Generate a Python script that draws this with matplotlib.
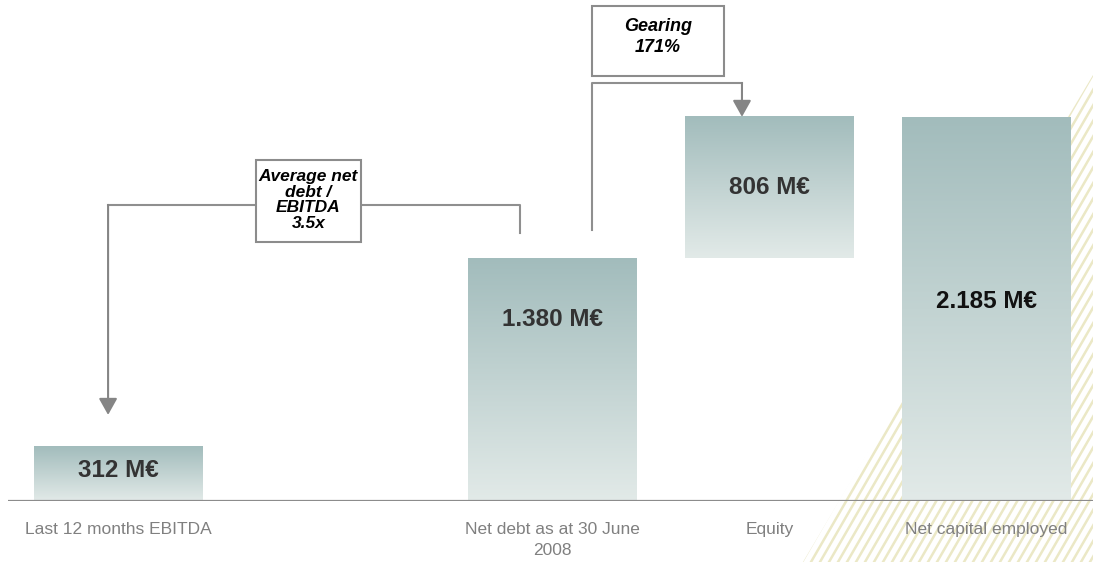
import numpy as np
import matplotlib
matplotlib.use("Agg")
import matplotlib.pyplot as plt
from matplotlib.patches import Rectangle, Polygon
from matplotlib.colors import LinearSegmentedColormap

plt.rcParams['font.family'] = ['Liberation Sans', 'DejaVu Sans']

# data
categories = ["Last 12 months EBITDA", "Net debt as at 30 June\n2008", "Equity", "Net capital employed"]
x_pos = [0, 2, 3, 4]
values = [312, 1380, 806, 2185]
bottoms = [0, 0, values[1], 0]          # equity sits on top of net debt
value_labels = ["312 M€", "1.380 M€", "806 M€", "2.185 M€"]
label_colors = ["#333333", "#333333", "#333333", "#111111"]
label_frac = [0.55, 0.75, 0.5, 0.52]   # where the value text sits inside each bar
ratio_text = "Average net\ndebt /\nEBITDA\n3.5x"
gearing_text = "Gearing\n171%"

W, H = 1093, 562
fig = plt.figure(figsize=(W / 100, H / 100), dpi=100)

# pale diagonal stripes in the lower right corner (slide background)
bg = fig.add_axes([0, 0, 1, 1])
bg.set_xlim(0, W)
bg.set_ylim(H, 0)
bg.axis('off')
clip = Polygon([(800, H + 5), (W, 75), (W, H + 5)], closed=True,
               transform=bg.transData, facecolor='none', edgecolor='none')
bg.add_patch(clip)
for c in np.arange(460, W + 20, 9):
    ln, = bg.plot([c, c + 325], [H, 0], color='#ebe8c6', lw=1.8)
    ln.set_clip_path(clip)

ax = fig.add_axes([8 / W, 61 / H, (W - 8) / W, 501 / H])
ax.set_facecolor('none')
bar_w = 0.774

# bars with a vertical gradient, dark at the top
cmap = LinearSegmentedColormap.from_list('bar', ['#e2eae8', '#a2bcbc'])
grad = np.linspace(0, 1, 256).reshape(-1, 1)
for x, b, v in zip(x_pos, bottoms, values):
    ax.imshow(grad, extent=[x - bar_w / 2, x + bar_w / 2, b, b + v], origin='lower',
              cmap=cmap, aspect='auto', zorder=2, interpolation='bilinear')

for x, b, v, t, col, f in zip(x_pos, bottoms, values, value_labels, label_colors, label_frac):
    ax.text(x, b + v * f, t, ha='center', va='center', fontsize=17.5,
            fontweight='bold', color=col, zorder=6)

ax.axhline(0, color='#8c8c8c', lw=1.6, zorder=3)

line_col = '#8f8f8f'
head = dict(arrowstyle='-|>,head_length=0.5,head_width=0.28', mutation_scale=20,
            color='#858585', lw=1.5, shrinkA=0, shrinkB=0)

# EBITDA <-> net debt link
y_link = 1685
xl, xr = -0.046, 1.852
ax.plot([xr, xr, xl], [values[1] + 145, y_link, y_link], color=line_col, lw=1.5, zorder=4)
ax.annotate('', xy=(xl, values[0] + 178), xytext=(xl, y_link), arrowprops=head, zorder=4)
ax.add_patch(Rectangle((0.636, 1474), 0.483, 467, facecolor='white',
                       edgecolor='#8c8c8c', lw=1.5, zorder=5))
ax.text(0.877, 1712, ratio_text, ha='center', va='center', fontsize=12.5,
        fontweight='bold', style='italic', linespacing=1.05, zorder=6)

# net debt -> equity link (gearing)
y_top = 2379
xg, xe = 2.183, 2.874
ax.plot([xg, xg, xe], [1542, y_top, y_top], color=line_col, lw=1.5, zorder=4)
ax.annotate('', xy=(xe, bottoms[2] + values[2]), xytext=(xe, y_top), arrowprops=head, zorder=4)
ax.add_patch(Rectangle((2.183, 2419), 0.608, 398, facecolor='white',
                       edgecolor='#8c8c8c', lw=1.5, zorder=5))
ax.text(2.487, 2640, gearing_text, ha='center', va='center', fontsize=13,
        fontweight='bold', style='italic', linespacing=1.3, zorder=6)

ax.set_xlim(-0.507, 4.491)
ax.set_ylim(0, 2851)
ax.set_xticks(x_pos, categories)
ax.set_yticks([])
ax.tick_params(axis='x', length=0, pad=15, labelsize=12.5, labelcolor='#808080')
for lab in ax.get_xticklabels():
    lab.set_linespacing(1.5)
for s in ax.spines.values():
    s.set_visible(False)

fig.savefig("out.png", dpi=100)
